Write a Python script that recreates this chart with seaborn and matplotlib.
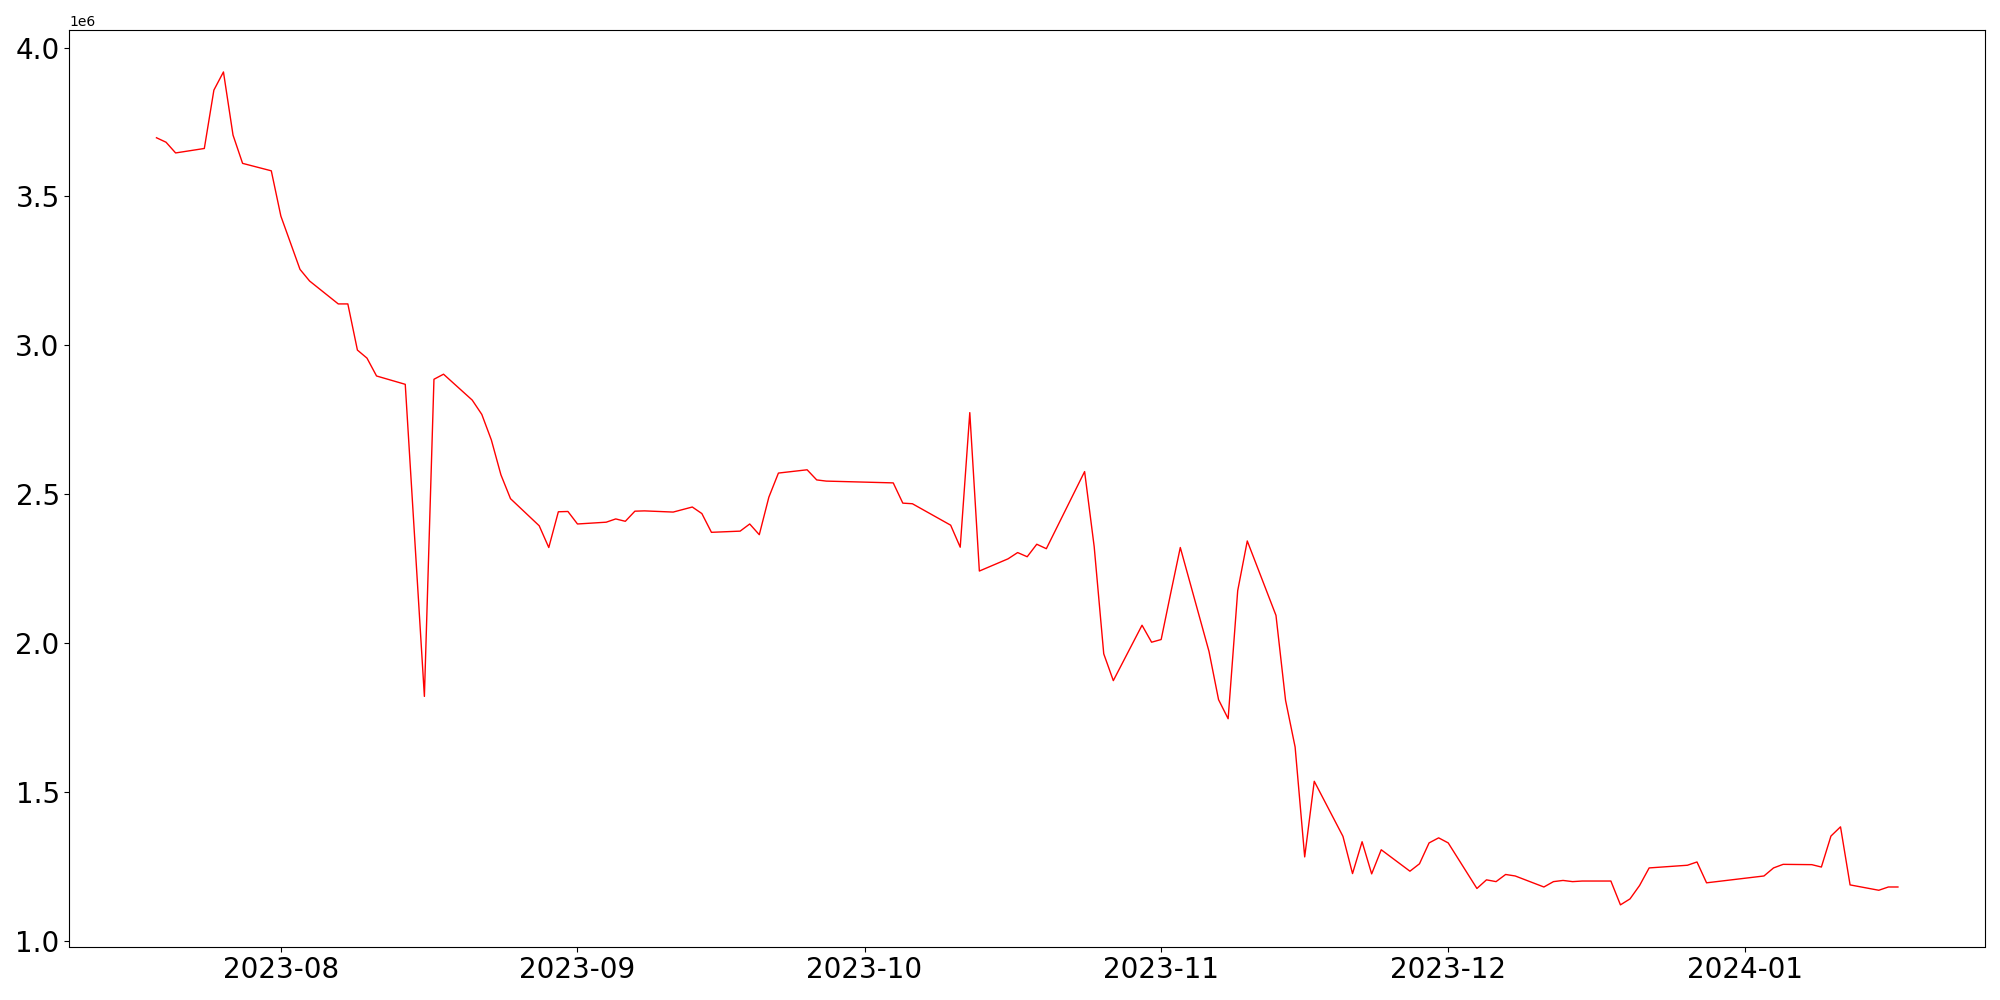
import pandas as pd
import seaborn as sns
import matplotlib
matplotlib.use("Agg")
import matplotlib.pyplot as plt

# datas (dias úteis com algumas lacunas)
datas = [
    "2023-07-19", "2023-07-20", "2023-07-21", "2023-07-24", "2023-07-25", "2023-07-26",
    "2023-07-27", "2023-07-28", "2023-07-31", "2023-08-01", "2023-08-03", "2023-08-04",
    "2023-08-07", "2023-08-08", "2023-08-09", "2023-08-10", "2023-08-11", "2023-08-14",
    "2023-08-16", "2023-08-17", "2023-08-18", "2023-08-21", "2023-08-22", "2023-08-23",
    "2023-08-24", "2023-08-25", "2023-08-28", "2023-08-29", "2023-08-30", "2023-08-31",
    "2023-09-01", "2023-09-04", "2023-09-05", "2023-09-06", "2023-09-07", "2023-09-08",
    "2023-09-11", "2023-09-13", "2023-09-14", "2023-09-15", "2023-09-18", "2023-09-19",
    "2023-09-20", "2023-09-21", "2023-09-22", "2023-09-25", "2023-09-26", "2023-09-27",
    "2023-10-04", "2023-10-05", "2023-10-06", "2023-10-10", "2023-10-11", "2023-10-12",
    "2023-10-13", "2023-10-16", "2023-10-17", "2023-10-18", "2023-10-19", "2023-10-20",
    "2023-10-24", "2023-10-25", "2023-10-26", "2023-10-27", "2023-10-30", "2023-10-31",
    "2023-11-01", "2023-11-02", "2023-11-03", "2023-11-06", "2023-11-07", "2023-11-08",
    "2023-11-09", "2023-11-10", "2023-11-13", "2023-11-14", "2023-11-15", "2023-11-16",
    "2023-11-17", "2023-11-20", "2023-11-21", "2023-11-22", "2023-11-23", "2023-11-24",
    "2023-11-27", "2023-11-28", "2023-11-29", "2023-11-30", "2023-12-01", "2023-12-04",
    "2023-12-05", "2023-12-06", "2023-12-07", "2023-12-08", "2023-12-11", "2023-12-12",
    "2023-12-13", "2023-12-14", "2023-12-15", "2023-12-18", "2023-12-19", "2023-12-20",
    "2023-12-21", "2023-12-22", "2023-12-26", "2023-12-27", "2023-12-28", "2024-01-03",
    "2024-01-04", "2024-01-05", "2024-01-08", "2024-01-09", "2024-01-10", "2024-01-11",
    "2024-01-12", "2024-01-15", "2024-01-16", "2024-01-17",
]

# valores em milhões
valores_mi = [
    3.697, 3.682, 3.646, 3.661, 3.857, 3.918,
    3.706, 3.611, 3.586, 3.434, 3.255, 3.216,
    3.139, 3.139, 2.984, 2.957, 2.897, 2.869,
    1.821, 2.886, 2.903, 2.816, 2.768, 2.682,
    2.565, 2.485, 2.394, 2.321, 2.441, 2.442,
    2.400, 2.406, 2.417, 2.409, 2.443, 2.444,
    2.440, 2.457, 2.435, 2.372, 2.376, 2.400,
    2.364, 2.490, 2.571, 2.582, 2.548, 2.544,
    2.538, 2.470, 2.468, 2.396, 2.322, 2.774,
    2.242, 2.283, 2.304, 2.290, 2.332, 2.317,
    2.576, 2.324, 1.964, 1.874, 2.060, 2.003,
    2.012, 2.168, 2.321, 1.972, 1.810, 1.746,
    2.176, 2.343, 2.093, 1.808, 1.651, 1.282,
    1.536, 1.351, 1.226, 1.333, 1.225, 1.306,
    1.234, 1.259, 1.329, 1.346, 1.329, 1.176,
    1.205, 1.199, 1.223, 1.218, 1.181, 1.199,
    1.203, 1.199, 1.201, 1.201, 1.121, 1.141,
    1.186, 1.245, 1.254, 1.265, 1.195, 1.218,
    1.245, 1.257, 1.256, 1.248, 1.352, 1.383,
    1.188, 1.170, 1.181, 1.181,
]

df = pd.DataFrame({
    "data": pd.to_datetime(datas),
    "valor": [v * 1e6 for v in valores_mi],
})

fig, ax = plt.subplots(figsize=(20, 10), dpi=100)
sns.lineplot(data=df, x="data", y="valor", color="red", linewidth=1.0, ax=ax)
ax.set_xlabel("")
ax.set_ylabel("")
ax.tick_params(axis="both", labelsize=20)
plt.subplots_adjust(left=0.0347, right=0.9925, top=0.9697, bottom=0.0535)
plt.savefig("out.png")
